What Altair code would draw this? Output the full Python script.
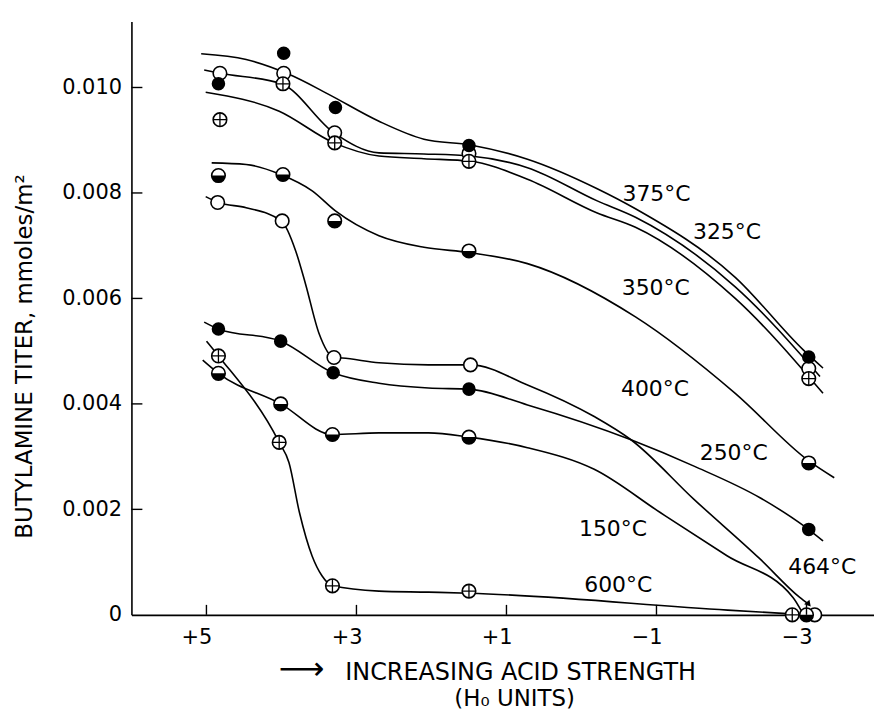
import altair as alt
import pandas as pd

FONT = "DejaVu Sans"

# ---------------- data ----------------
# measured points: H0 position and butylamine titer (mmoles/m^2)
p375_x = [4.84, 3.97, 3.28, 1.50, -3.03]
p375_y = [0.01007, 0.01065, 0.00962, 0.00890, 0.00489]
p325_x = [4.82, 3.97, 3.29, 1.50, -3.03]
p325_y = [0.01027, 0.01027, 0.00914, 0.00875, 0.00467]
p350_x = [4.82, 3.98, 3.29, 1.50, -3.03]
p350_y = [0.00939, 0.01007, 0.00895, 0.00860, 0.00448]
p400_x = [4.84, 3.98, 3.29, 1.50, -3.03]
p400_y = [0.00833, 0.00835, 0.00747, 0.00690, 0.00288]
p464_x = [4.85, 3.99, 3.30, 1.48, -3.11]
p464_y = [0.00782, 0.00747, 0.00488, 0.00474, 0.0]
p250_x = [4.84, 4.01, 3.31, 1.50, -3.03]
p250_y = [0.00542, 0.00519, 0.00459, 0.00428, 0.00162]
p150_x = [4.84, 4.01, 3.32, 1.50, -3.00]
p150_y = [0.00458, 0.00400, 0.00342, 0.00337, 0.0]
p600_x = [4.84, 4.03, 3.32, 1.50, -2.81]
p600_y = [0.00491, 0.00327, 0.00055, 0.00045, 0.0]

# hand-drawn curves
c375_x = [5.07, 4.47, 3.90, 3.37, 2.70, 2.10, 1.48, 0.72, -0.21, -0.72, -2.05, -2.96, -3.22]
c375_y = [0.01064, 0.01053, 0.01025, 0.00987, 0.00936, 0.00902, 0.00891, 0.00864, 0.00808, 0.00770, 0.00640, 0.00502, 0.00468]
c325_x = [5.03, 4.82, 4.00, 3.30, 2.70, 2.10, 1.48, 0.72, -0.21, -0.72, -2.05, -3.18]
c325_y = [0.01033, 0.01027, 0.01007, 0.00914, 0.00876, 0.00874, 0.00870, 0.00848, 0.00785, 0.00754, 0.00622, 0.00452]
c350_x = [5.01, 4.03, 3.30, 2.70, 2.10, 1.48, 0.72, -0.21, -0.72, -2.05, -3.22]
c350_y = [0.00991, 0.00955, 0.00895, 0.00870, 0.00865, 0.00860, 0.00826, 0.00762, 0.00735, 0.00600, 0.00420]
c400_x = [4.93, 4.47, 4.01, 3.59, 3.28, 2.70, 2.10, 1.49, 0.72, -0.72, -2.05, -3.03, -3.37]
c400_y = [0.00857, 0.00854, 0.00835, 0.00804, 0.00766, 0.00719, 0.00697, 0.00687, 0.00666, 0.00565, 0.00420, 0.00292, 0.00260]
c464_x = [5.01, 4.84, 4.47, 4.00, 3.81, 3.68, 3.50, 3.30, 3.19, 2.70, 2.04, 1.48, 0.72, -0.17, -0.66, -1.50, -2.38, -2.91, -3.03]
c464_y = [0.00793, 0.00782, 0.00772, 0.00747, 0.00690, 0.00628, 0.00534, 0.00488, 0.00487, 0.00478, 0.00474, 0.00474, 0.00436, 0.00376, 0.00332, 0.00219, 0.00106, 0.00033, 0.00020]
c250_x = [5.03, 4.84, 4.01, 3.31, 2.70, 2.04, 1.50, 0.72, -0.66, -1.50, -2.38, -2.96, -3.22]
c250_y = [0.00555, 0.00542, 0.00519, 0.00459, 0.00439, 0.00430, 0.00428, 0.00398, 0.00332, 0.00282, 0.00222, 0.00169, 0.00140]
c150_x = [5.05, 4.84, 4.01, 3.32, 2.70, 2.04, 1.50, 0.72, -0.17, -1.05, -1.94, -2.82, -2.93]
c150_y = [0.00483, 0.00458, 0.00400, 0.00342, 0.00345, 0.00345, 0.00337, 0.00317, 0.00276, 0.00194, 0.00112, 0.00033, 0.00008]
c600_x = [5.00, 4.84, 4.03, 3.90, 3.76, 3.59, 3.46, 3.32, 2.70, 2.04, 1.50, -1.95, -2.78]
c600_y = [0.00519, 0.00491, 0.00327, 0.00289, 0.00194, 0.00111, 0.00074, 0.00055, 0.00045, 0.00043, 0.00041, 0.00009, 0.00002]

# curve labels
lab_text = ["375°C", "325°C", "350°C", "400°C", "250°C", "150°C", "464°C", "600°C"]
lab_x = [-1.00, -1.94, -0.99, -0.98, -2.03, -0.42, -3.21, -0.49]
lab_y = [0.00798, 0.00726, 0.00619, 0.00429, 0.00307, 0.00162, 0.00090, 0.00057]

# axes
x_ticks = [5, 3, 1, -1, -3]
x_tick_labels = ["+5", "+3", "+1", "\u22121", "\u22123"]
y_ticks = [0.0, 0.002, 0.004, 0.006, 0.008, 0.010]
x_domain = [-3.90, 6.0]
y_domain = [0.0, 0.01125]

# ---------------- tables ----------------
pts_def = [
    ("375", "filled", p375_x, p375_y), ("325", "open", p325_x, p325_y),
    ("350", "crossed", p350_x, p350_y), ("400", "half", p400_x, p400_y),
    ("464", "open", p464_x, p464_y), ("250", "filled", p250_x, p250_y),
    ("150", "half", p150_x, p150_y), ("600", "crossed", p600_x, p600_y),
]
rows = []
for s, st, xs, ys in pts_def:
    for xv, yv in zip(xs, ys):
        rows.append({"series": s, "style": st, "h0": xv, "val": yv})
pts = pd.DataFrame(rows)

crv_def = [("375", c375_x, c375_y), ("325", c325_x, c325_y), ("350", c350_x, c350_y),
           ("400", c400_x, c400_y), ("464", c464_x, c464_y), ("250", c250_x, c250_y),
           ("150", c150_x, c150_y), ("600", c600_x, c600_y)]
crows = []
for s, xs, ys in crv_def:
    for i, (xv, yv) in enumerate(zip(xs, ys)):
        crows.append({"series": s, "seq": i, "h0": xv, "val": yv})
crv = pd.DataFrame(crows)

arrow = pd.DataFrame({"h0": [c464_x[-1]], "val": [c464_y[-1]]})
labels = pd.DataFrame({"t": lab_text, "h0": lab_x, "val": lab_y})
xt = pd.DataFrame({"h0": x_ticks, "lab": x_tick_labels})
yt = pd.DataFrame({"val": y_ticks[1:]})

# ---------------- encodings ----------------
xscale = alt.Scale(domain=x_domain, reverse=True, nice=False, zero=False)
yscale = alt.Scale(domain=y_domain, nice=False, zero=False)
xaxis = alt.Axis(values=x_ticks, title="", grid=False, ticks=False, labels=False,
                 domainColor="black", domainWidth=1.6)
yaxis = alt.Axis(values=y_ticks, grid=False, ticks=False,
                 labelExpr="datum.value == 0 ? '0' : format(datum.value, '.3f')",
                 labelFont=FONT, labelFontSize=21, labelColor="black", labelPadding=10,
                 domainColor="black", domainWidth=1.6,
                 title="BUTYLAMINE TITER, mmoles/m\u00b2", titleFont=FONT, titleFontSize=23,
                 titleFontWeight="normal", titleColor="black", titleAngle=270,
                 titleX=-100, titleY=336, titleAlign="center", titleBaseline="alphabetic")
X = alt.X("h0:Q", scale=xscale, axis=xaxis)
Y = alt.Y("val:Q", scale=yscale, axis=yaxis)

SIZE = 185

curves = alt.Chart(crv).mark_line(interpolate="monotone", color="black", strokeWidth=1.6).encode(
    x=X, y=Y, detail="series:N", order="seq:Q")

arrow_head = alt.Chart(arrow).mark_point(shape="triangle-up", filled=True, color="black",
                                         size=50, angle=140, opacity=1).encode(x=X, y=Y)

base_open = alt.Chart(pts).transform_filter(alt.datum.style != "filled").mark_point(
    shape="circle", filled=True, fill="white", stroke="black", strokeWidth=1.6,
    size=SIZE, opacity=1).encode(x=X, y=Y)
filled = alt.Chart(pts).transform_filter(alt.datum.style == "filled").mark_point(
    shape="circle", filled=True, color="black", size=SIZE, opacity=1).encode(x=X, y=Y)
half = alt.Chart(pts).transform_filter(alt.datum.style == "half").mark_point(
    shape="M -1 0 A 1 1 0 0 0 1 0 Z", filled=True, color="black", size=SIZE, opacity=1).encode(x=X, y=Y)
cross = alt.Chart(pts).transform_filter(alt.datum.style == "crossed").mark_point(
    shape="M -1 0 L 1 0 M 0 -1 L 0 1", filled=False, color="black", strokeWidth=1.3,
    size=SIZE, opacity=1).encode(x=X, y=Y)

texts = alt.Chart(labels).mark_text(font=FONT, fontSize=22, color="black",
                                    align="center", baseline="middle").encode(x=X, y=Y, text="t:N")

xticks = alt.Chart(xt).mark_rule(color="black", strokeWidth=1.4).encode(
    x=X, y=alt.value(596), y2=alt.value(586))
xlabels = alt.Chart(xt).mark_text(font=FONT, fontSize=21, color="black", align="right",
                                  baseline="top", dx=6).encode(x=X, y=alt.value(608), text="lab:N")
yticks = alt.Chart(yt).mark_rule(color="black", strokeWidth=1.4).encode(
    y=Y, x=alt.value(0), x2=alt.value(11))

title_df = pd.DataFrame({"t": ["\u27f6", "INCREASING ACID STRENGTH", "(H\u2080 UNITS)"],
                         "px": [171, 391, 385], "py": [660, 661, 688],
                         "fs": [32, 24, 23]})
xtitle = alt.Chart(title_df).mark_text(font=FONT, color="black",
                                       align="center", baseline="alphabetic").encode(
    x=alt.X("px:Q", scale=None), y=alt.Y("py:Q", scale=None), text="t:N",
    size=alt.Size("fs:Q", scale=None, legend=None))

chart = alt.layer(curves, arrow_head, base_open, filled, half, cross, texts,
                  xticks, xlabels, yticks, xtitle).properties(
    width=746, height=596, autosize="none",
    padding={"left": 124, "top": 12, "right": 0, "bottom": 100},
    background="white",
).configure_view(strokeWidth=0)

chart.save("out.html", embed_options={"renderer": "svg", "actions": False})
